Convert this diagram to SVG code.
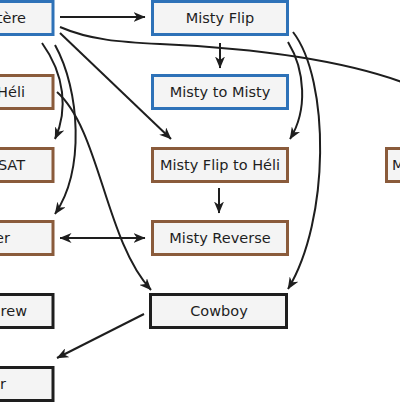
<svg xmlns="http://www.w3.org/2000/svg" width="400" height="404" viewBox="0 0 400 404">
<defs>
<style>
.box{fill:#f4f4f4;stroke-width:3}
.blue{stroke:#2e72b8}
.brown{stroke:#8a5b3b}
.black{stroke:#1e1e1e}
text{font-family:"DejaVu Sans","Liberation Sans",sans-serif;font-size:14.5px;fill:#1e1e1e}
.c{text-anchor:middle}
.e{text-anchor:end}
.edge{fill:none;stroke:#1e1e1e;stroke-width:2;marker-end:url(#ah)}
</style>
<marker id="ah" viewBox="0 0 12 10" refX="11.5" refY="5" markerWidth="12" markerHeight="10" markerUnits="userSpaceOnUse" orient="auto-start-reverse">
<path d="M0,0 L12,5 L0,10 L3.5,5 Z" fill="#1e1e1e"/>
</marker>
</defs>
<rect width="400" height="404" fill="#ffffff"/>
<g id="connectors">
<path class="edge" d="M60,17 L145,17"/>
<path class="edge" d="M220,43 L220,68"/>
<path class="edge" d="M219,188 L219,213"/>
<path class="edge" d="M60,238 L145,238" marker-start="url(#ah)"/>
<path class="edge" d="M144,314 L57,358"/>
<path class="edge" d="M60,33 L171,139"/>
<path class="edge" d="M42,43 C65,75 68,110 55,139"/>
<path class="edge" d="M55,45 C80,90 85,170 55,214"/>
<path class="edge" d="M57,92 C100,130 105,240 151,290"/>
<path class="edge" d="M288,42 C305,70 308,110 290,139"/>
<path class="edge" d="M293,32 C330,80 330,220 288,289"/>
<path class="edge" d="M60,27 C90,40 120,42 160,44 C250,48 340,58 410,85 L440,100"/>
</g>
<g id="n-tere"><rect class="box blue" x="-82" y="1.5" width="135" height="33"/><text class="e" x="26" y="22.5">tère</text></g>
<g id="n-misty-flip"><rect class="box blue" x="152.5" y="1.5" width="135" height="33"/><text class="c" x="220" y="22.5">Misty Flip</text></g>
<g id="n-heli"><rect class="box brown" x="-82" y="75.5" width="135" height="33"/><text class="e" x="25" y="96.5">Héli</text></g>
<g id="n-misty-to-misty"><rect class="box blue" x="152.5" y="75.5" width="135" height="33"/><text class="c" x="220" y="96.5">Misty to Misty</text></g>
<g id="n-sat"><rect class="box brown" x="-82" y="148.5" width="135" height="33"/><text class="e" x="25" y="169.5">SAT</text></g>
<g id="n-misty-flip-heli"><rect class="box brown" x="152.5" y="148.5" width="135" height="33"/><text class="c" x="220" y="169.5">Misty Flip to Héli</text></g>
<g id="n-m"><rect class="box brown" x="386.5" y="148.5" width="135" height="33"/><text x="392" y="169.5">M</text></g>
<g id="n-er"><rect class="box brown" x="-82" y="221.5" width="135" height="33"/><text class="e" x="10" y="242.5">er</text></g>
<g id="n-misty-reverse"><rect class="box brown" x="152.5" y="221.5" width="135" height="33"/><text class="c" x="220" y="242.5">Misty Reverse</text></g>
<g id="n-rew"><rect class="box black" x="-82" y="294.5" width="135" height="33"/><text class="e" x="27" y="315.5">rew</text></g>
<g id="n-cowboy"><rect class="box black" x="150.5" y="294.5" width="136" height="33"/><text class="c" x="219" y="315.5">Cowboy</text></g>
<g id="n-r"><rect class="box black" x="-82" y="367.5" width="135" height="33"/><text class="e" x="6" y="388.5">r</text></g>
</svg>
